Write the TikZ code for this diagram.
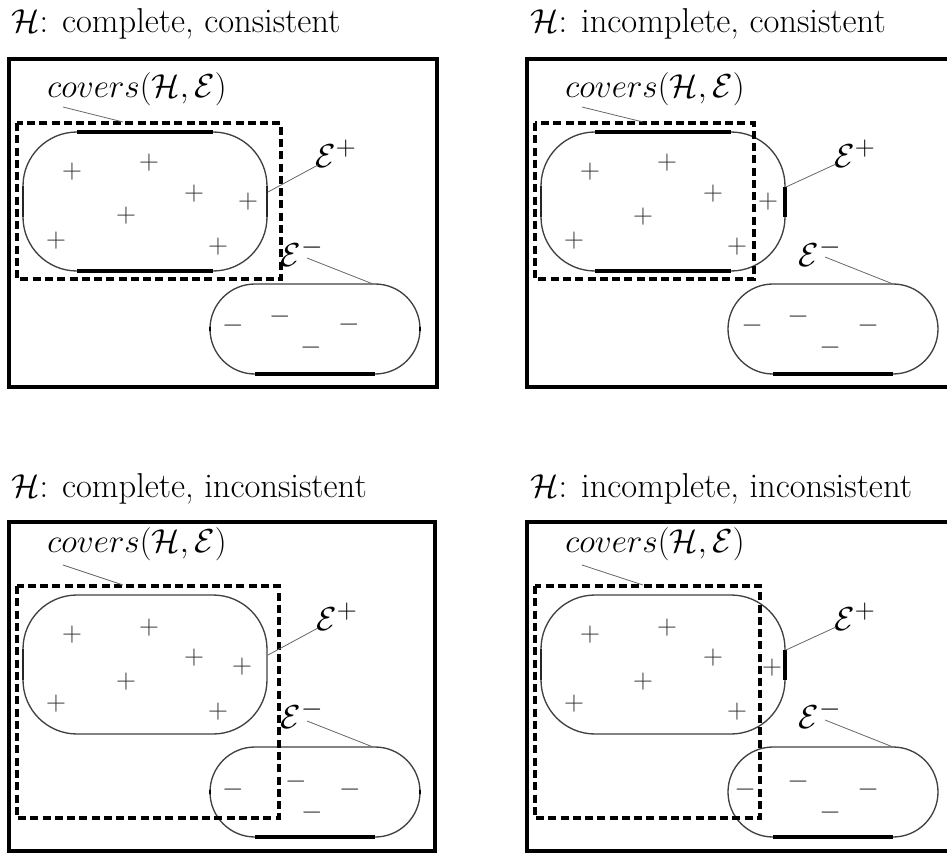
\documentclass[tikz,border=0pt]{standalone}
\begin{document}
\begin{tikzpicture}[x=0.75pt,y=-0.75pt,
  frame/.style={line width=2.6pt},
  cover/.style={line width=2.6pt,dash pattern=on 6pt off 3.2pt},
  blob/.style={line width=1pt,draw=black!75},
  boldseg/.style={line width=2.4pt},
  semiseg/.style={line width=1.5pt,draw=black!85},
  leader/.style={line width=0.6pt,draw=black!60},
  ttl/.style={font=\fontsize{25.9}{30}\selectfont, anchor=base west, inner sep=0pt},
  lbl/.style={font=\fontsize{24.88}{30}\selectfont, inner sep=0pt},
  sym/.style={font=\fontsize{20.74}{25}\selectfont, inner sep=0pt, text=black!80},
]
\useasboundingbox (0,0) rectangle (947,853);
\clip (0,0) rectangle (947,853);

% ---------------- Panel 1: complete, consistent
\begin{scope}[shift={(0,0)}]
  \node[ttl] (t1) at (11,32) {$\mathcal{H}$: complete, consistent};
  \draw[frame] (9,59) rectangle (437,387);
  \draw[blob, rounded corners=40.5pt] (23,132) rectangle (267,271);
  \draw[blob, rounded corners=33.75pt] (210,284) rectangle (420,374);
  \draw[boldseg] (77,132) -- (213,132);
  \draw[boldseg] (77,271) -- (213,271);
  \draw[semiseg] (23,186) -- (23,217);
  \draw[semiseg] (267,186) -- (267,217);
  \draw[boldseg] (255,374) -- (375,374);
  \draw[line width=2pt] (210,327) -- (210,331);
  \draw[line width=2pt] (420,327) -- (420,331);
  \draw[cover] (17,123) rectangle (281,279);
  \foreach \x/\y [count=\i] in {72/172,149/163,194/194,248/202,126/216,56/241,218/247}
    \node[sym] (p1p\i) at (\x,\y) {$+$};
  \foreach \x/\y [count=\i] in {233/326,280/317,349/325,311/348}
    \node[sym] (p1m\i) at (\x,\y) {$-$};
  \node[lbl] (c1) at (137,89) {$covers(\mathcal{H},\mathcal{E})$};
  \node[lbl] (ep1) at (336,154) {$\mathcal{E}^+$};
  \node[lbl] (em1) at (302,252) {$\mathcal{E}^-$};
  \coordinate (c1a) at (63,107); \coordinate (c1b) at (123,122);
  \coordinate (ep1a) at (318,165); \coordinate (ep1b) at (268,192);
  \coordinate (em1a) at (307,258); \coordinate (em1b) at (373,284);
  \draw[leader] (c1a) -- (c1b);
  \draw[leader] (ep1a) -- (ep1b);
  \draw[leader] (em1a) -- (em1b);
\end{scope}

% ---------------- Panel 2: incomplete, consistent
\begin{scope}[shift={(518,0)}]
  \node[ttl] (t2) at (12,32) {$\mathcal{H}$: incomplete, consistent};
  \draw[frame] (9,59) rectangle (437,387);
  \draw[blob, rounded corners=40.5pt] (23,132) rectangle (267,271);
  \draw[blob, rounded corners=33.75pt] (210,284) rectangle (420,374);
  \draw[boldseg] (77,132) -- (213,132);
  \draw[boldseg] (77,271) -- (213,271);
  \draw[semiseg] (23,186) -- (23,217);
  \draw[boldseg] (267,187) -- (267,217);
  \draw[boldseg] (255,374) -- (375,374);
  \draw[cover] (17,123) rectangle (236,279);
  \foreach \x/\y [count=\i] in {72/172,149/163,195/194,250/202,125/217,56/241,219/247}
    \node[sym] (p2p\i) at (\x,\y) {$+$};
  \foreach \x/\y [count=\i] in {234/326,280/317,350/326,312/348}
    \node[sym] (p2m\i) at (\x,\y) {$-$};
  \node[lbl] (c2) at (137,89) {$covers(\mathcal{H},\mathcal{E})$};
  \node[lbl] (ep2) at (337,154) {$\mathcal{E}^+$};
  \node[lbl] (em2) at (302,252) {$\mathcal{E}^-$};
  \coordinate (c2a) at (64,107); \coordinate (c2b) at (125,122);
  \coordinate (ep2a) at (318,164); \coordinate (ep2b) at (268,187);
  \coordinate (em2a) at (307,257); \coordinate (em2b) at (375,284);
  \draw[leader] (c2a) -- (c2b);
  \draw[leader] (ep2a) -- (ep2b);
  \draw[leader] (em2a) -- (em2b);
\end{scope}

% ---------------- Panel 3: complete, inconsistent
\begin{scope}[shift={(0,463)}]
  \node[ttl] (t3) at (11,34) {$\mathcal{H}$: complete, inconsistent};
  \draw[frame] (9,59) rectangle (435,388);
  \draw[blob, rounded corners=40.5pt] (23,132) rectangle (267,271);
  \draw[blob, rounded corners=33.75pt] (210,284) rectangle (420,374);
  \draw[semiseg] (23,186) -- (23,217);
  \draw[boldseg] (255,374) -- (375,374);
  \draw[line width=2pt] (210,327) -- (210,331);
  \draw[line width=2pt] (420,327) -- (420,331);
  \draw[cover] (17,123) rectangle (279,355);
  \foreach \x/\y [count=\i] in {72/172,149/165,194/195,242/204,126/219,56/241,218/249}
    \node[sym] (p3p\i) at (\x,\y) {$+$};
  \foreach \x/\y [count=\i] in {233/327,296/319,350/327,312/350}
    \node[sym] (p3m\i) at (\x,\y) {$-$};
  \node[lbl] (c3) at (137,81) {$covers(\mathcal{H},\mathcal{E})$};
  \node[lbl] (ep3) at (337,154) {$\mathcal{E}^+$};
  \node[lbl] (em3) at (302,251) {$\mathcal{E}^-$};
  \coordinate (c3a) at (63,102); \coordinate (c3b) at (123,122);
  \coordinate (ep3a) at (318,165); \coordinate (ep3b) at (268,192);
  \coordinate (em3a) at (307,258); \coordinate (em3b) at (373,284);
  \draw[leader] (c3a) -- (c3b);
  \draw[leader] (ep3a) -- (ep3b);
  \draw[leader] (em3a) -- (em3b);
\end{scope}

% ---------------- Panel 4: incomplete, inconsistent
\begin{scope}[shift={(518,463)}]
  \node[ttl] (t4) at (12,34) {$\mathcal{H}$: incomplete, inconsistent};
  \draw[frame] (9,59) rectangle (437,388);
  \draw[blob, rounded corners=40.5pt] (23,132) rectangle (267,271);
  \draw[blob, rounded corners=33.75pt] (210,284) rectangle (420,374);
  \draw[semiseg] (23,186) -- (23,217);
  \draw[boldseg] (267,187) -- (267,217);
  \draw[boldseg] (255,374) -- (375,374);
  \draw[cover] (17,123) rectangle (242,355);
  \foreach \x/\y [count=\i] in {72/172,149/165,195/195,254/205,125/219,56/241,219/249}
    \node[sym] (p4p\i) at (\x,\y) {$+$};
  \foreach \x/\y [count=\i] in {227/327,280/319,350/327,312/350}
    \node[sym] (p4m\i) at (\x,\y) {$-$};
  \node[lbl] (c4) at (137,81) {$covers(\mathcal{H},\mathcal{E})$};
  \node[lbl] (ep4) at (337,154) {$\mathcal{E}^+$};
  \node[lbl] (em4) at (302,251) {$\mathcal{E}^-$};
  \coordinate (c4a) at (64,102); \coordinate (c4b) at (125,122);
  \coordinate (ep4a) at (318,164); \coordinate (ep4b) at (268,187);
  \coordinate (em4a) at (307,257); \coordinate (em4b) at (375,284);
  \draw[leader] (c4a) -- (c4b);
  \draw[leader] (ep4a) -- (ep4b);
  \draw[leader] (em4a) -- (em4b);
\end{scope}
\end{tikzpicture}
\end{document}
